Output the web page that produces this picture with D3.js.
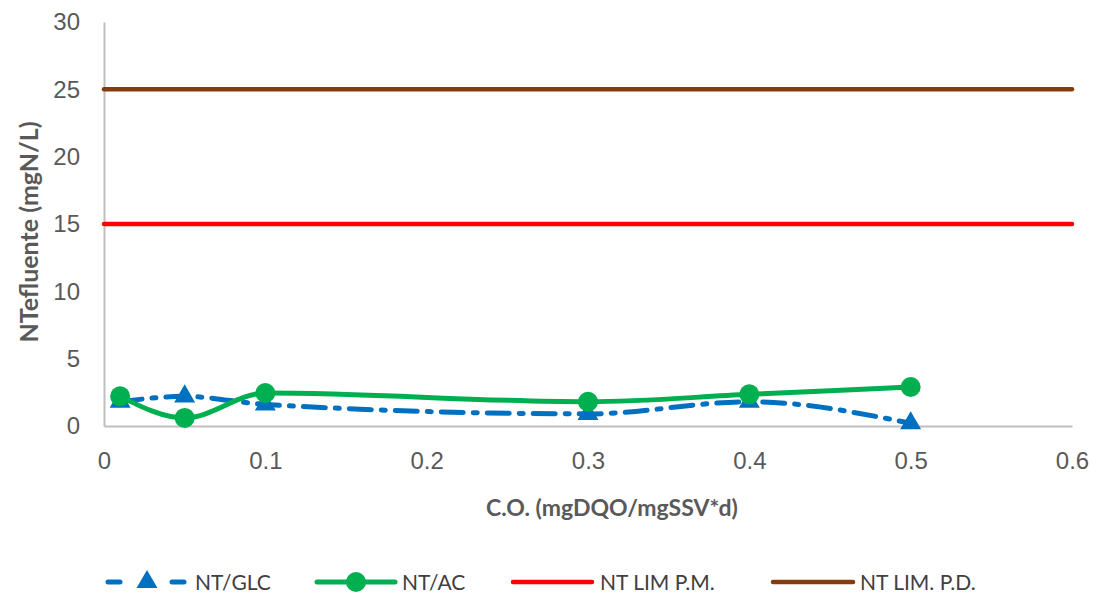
<!DOCTYPE html>
<html>
<head>
<meta charset="utf-8">
<script src="https://cdn.jsdelivr.net/npm/d3@7"></script>
<style>
  html, body { margin: 0; padding: 0; background: #fff; }
  svg { display: block; font-family: Lato, "Open Sans", sans-serif; }
</style>
</head>
<body>
<svg id="chart" width="1099" height="596"></svg>
<script>
// Organic load (mgDQO/mgSSV*d) at which each effluent sample was taken
const cargaOrganica = [0.01, 0.05, 0.1, 0.3, 0.4, 0.5];
// Total nitrogen in the effluent, mgN/L
const ntGlc = [1.8, 2.2, 1.6, 0.9, 1.8, 0.2];
const ntAc  = [2.2, 0.6, 2.45, 1.8, 2.35, 2.9];
// Discharge limits (constant across the load range)
const limiteX = [0, 0.6];
const limPM = [15, 15];
const limPD = [25, 25];

const xTicks = [0, 0.1, 0.2, 0.3, 0.4, 0.5, 0.6];
const yTicks = [0, 5, 10, 15, 20, 25, 30];

const svg = d3.select("#chart");
const plotLeft = 104, plotRight = 1072, plotTop = 22, plotBottom = 426;

const x = d3.scaleLinear().domain([0, 0.6]).range([plotLeft, plotRight]);
const y = d3.scaleLinear().domain([0, 30]).range([plotBottom, plotTop]);

// Axes
const xAxis = svg.append("g")
  .attr("transform", `translate(0,${plotBottom})`)
  .call(d3.axisBottom(x).tickValues(xTicks).tickSize(0).tickPadding(34)
        .tickFormat(d => String(+d.toFixed(1))));
const yAxis = svg.append("g")
  .attr("transform", `translate(${plotLeft},0)`)
  .call(d3.axisLeft(y).tickValues(yTicks).tickSize(0).tickPadding(24));

[xAxis, yAxis].forEach(g => {
  g.select(".domain").attr("stroke", "#BFBFBF").attr("stroke-width", 2);
  g.selectAll("text").attr("fill", "#595959").attr("font-size", 24);
});
xAxis.selectAll("text").attr("dy", "0.36em");

// Axis titles
svg.append("text")
  .attr("x", 612).attr("y", 516)
  .attr("text-anchor", "middle")
  .attr("fill", "#595959").attr("font-size", 23).attr("font-weight", "bold")
  .text("C.O. (mgDQO/mgSSV*d)");
svg.append("text")
  .attr("transform", `translate(38,232) rotate(-90)`)
  .attr("text-anchor", "middle")
  .attr("fill", "#595959").attr("font-size", 25).attr("font-weight", "bold")
  .text("NTefluente (mgN/L)");

// Series
const series = [
  { name: "NT/GLC", xs: cargaOrganica, ys: ntGlc, color: "#0070C0", dash: "22,10,4,10", marker: "triangle", curve: d3.curveMonotoneX },
  { name: "NT/AC", xs: cargaOrganica, ys: ntAc, color: "#00B050", dash: null, marker: "circle", curve: d3.curveMonotoneX },
  { name: "NT LIM P.M.", xs: limiteX, ys: limPM, color: "#FF0000", dash: null, marker: null, curve: d3.curveLinear },
  { name: "NT LIM. P.D.", xs: limiteX, ys: limPD, color: "#843C0C", dash: null, marker: null, curve: d3.curveLinear }
];

const tri = d3.symbol().type(d3.symbolTriangle).size(190);

series.forEach(s => {
  const pts = s.xs.map((v, i) => [v, s.ys[i]]);
  const line = d3.line().x(d => x(d[0])).y(d => y(d[1])).curve(s.curve);
  svg.append("path")
    .attr("d", line(pts))
    .attr("fill", "none")
    .attr("stroke", s.color)
    .attr("stroke-width", s.marker ? 5 : 4.5)
    .attr("stroke-dasharray", s.dash)
    .attr("stroke-linecap", "round");
  if (s.marker === "circle") {
    svg.append("g").selectAll("circle").data(pts).join("circle")
      .attr("cx", d => x(d[0])).attr("cy", d => y(d[1])).attr("r", 10)
      .attr("fill", s.color);
  } else if (s.marker === "triangle") {
    svg.append("g").selectAll("path").data(pts).join("path")
      .attr("d", tri)
      .attr("transform", d => `translate(${x(d[0])},${y(d[1])})`)
      .attr("fill", s.color);
  }
});

// Legend
const legendY = 582;
const legendPos = [
  { x0: 108, x1: 186, tx: 195 },
  { x0: 317, x1: 395, tx: 402 },
  { x0: 513, x1: 592, tx: 600 },
  { x0: 773, x1: 853, tx: 860 }
];
series.forEach((s, i) => {
  const p = legendPos[i];
  const g = svg.append("g");
  if (s.marker === "triangle") {
    g.append("line").attr("x1", p.x0).attr("x2", p.x0 + 12).attr("y1", legendY).attr("y2", legendY)
      .attr("stroke", s.color).attr("stroke-width", 5).attr("stroke-linecap", "round");
    g.append("line").attr("x1", p.x1 - 14).attr("x2", p.x1 - 2).attr("y1", legendY).attr("y2", legendY)
      .attr("stroke", s.color).attr("stroke-width", 5).attr("stroke-linecap", "round");
    g.append("path").attr("d", tri).attr("transform", `translate(${(p.x0 + p.x1) / 2},${legendY})`)
      .attr("fill", s.color);
  } else {
    g.append("line").attr("x1", p.x0).attr("x2", p.x1).attr("y1", legendY).attr("y2", legendY)
      .attr("stroke", s.color).attr("stroke-width", s.marker ? 5 : 4.5).attr("stroke-linecap", "round");
    if (s.marker === "circle") {
      g.append("circle").attr("cx", (p.x0 + p.x1) / 2).attr("cy", legendY).attr("r", 10).attr("fill", s.color);
    }
  }
  g.append("text").attr("x", p.tx).attr("y", legendY).attr("dy", "0.36em")
    .attr("fill", "#404040").attr("font-size", 21).text(s.name);
});
</script>
</body>
</html>
